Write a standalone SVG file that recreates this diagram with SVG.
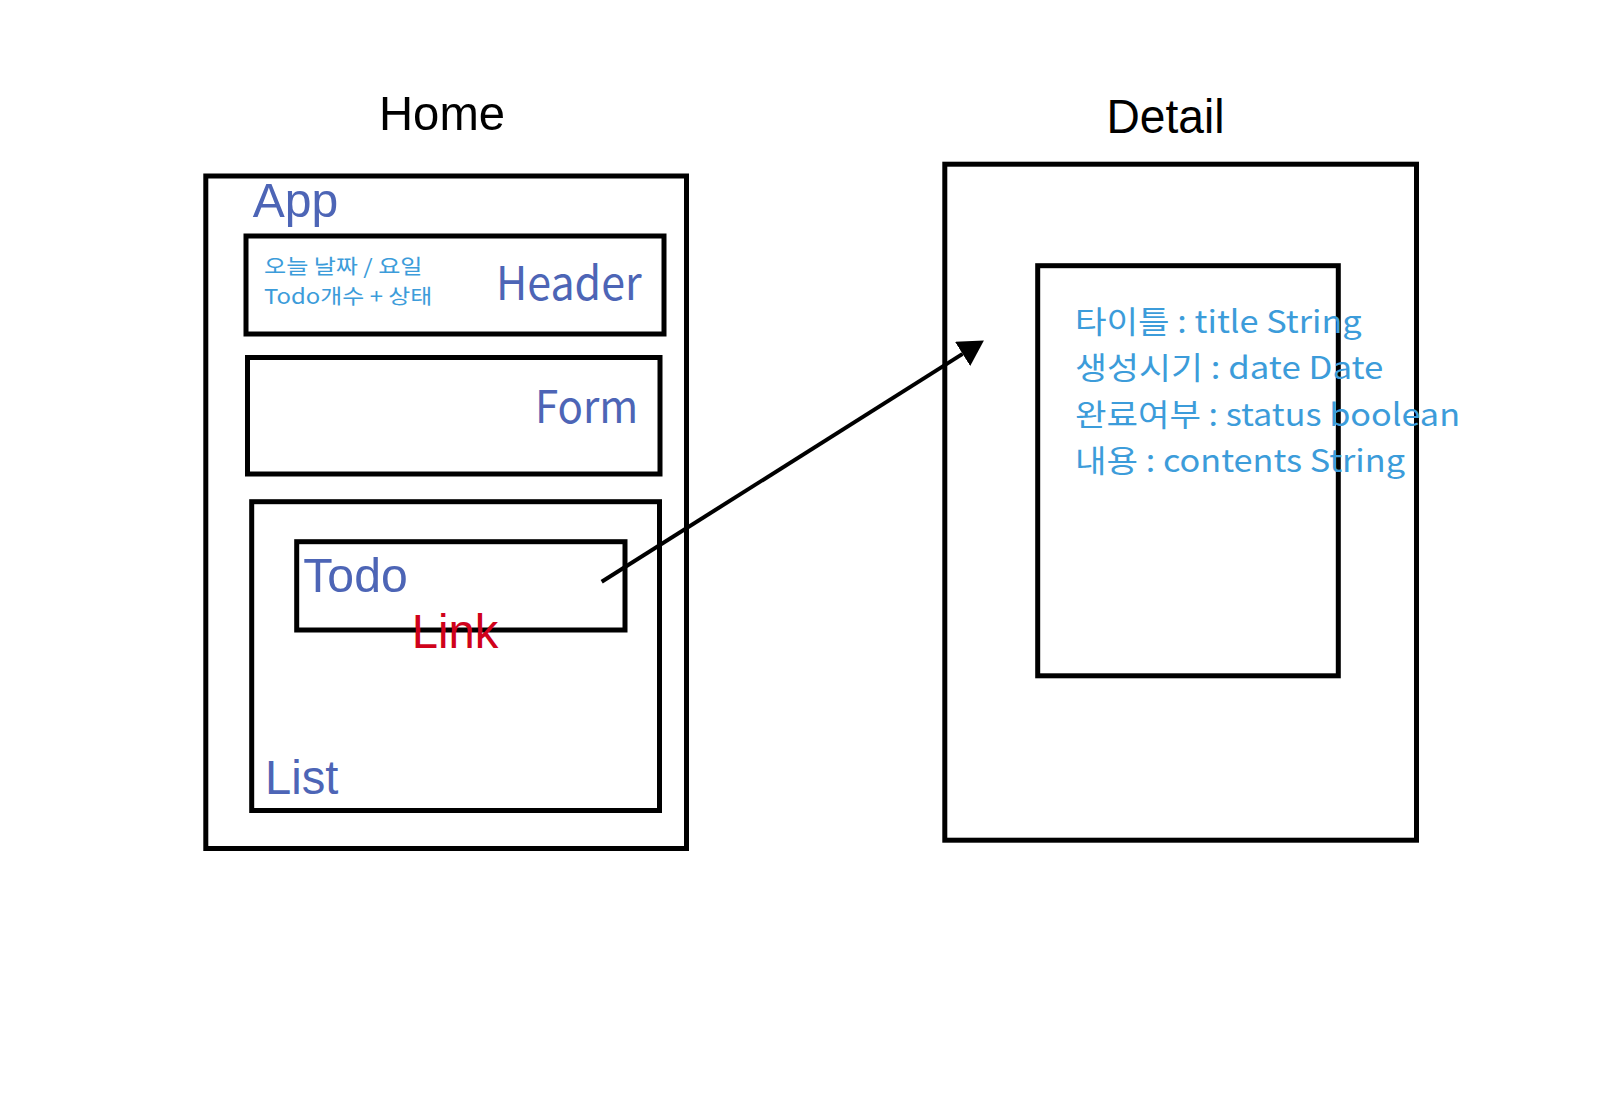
<svg xmlns="http://www.w3.org/2000/svg" width="1600" height="1104" viewBox="0 0 1600 1104">
<style>
.box{fill:none;stroke:#000;stroke-width:5}
.title{font-family:"Liberation Sans",Arial,sans-serif;font-size:49px;fill:#000}
.lbl{font-family:"Liberation Sans",Arial,sans-serif;font-size:48px;fill:#4d65b6}
.lbk{font-family:"Noto Sans CJK KR","Noto Sans",sans-serif;fill:#4d65b6}
.ko{font-family:"Noto Sans CJK KR",sans-serif;fill:#3c9cda}
.link{font-family:"Liberation Sans",Arial,sans-serif;font-size:48px;fill:#d0021b}
.conn{fill:none;stroke:#000;stroke-width:4}
</style>
<defs>
<marker id="arrow" markerUnits="userSpaceOnUse" markerWidth="26" markerHeight="30" refX="0" refY="14.25" orient="auto" viewBox="0 0 26 30">
<path d="M0,0 L25.2,14.25 L0,28.5 z" fill="#000"/>
</marker>
</defs>
<rect width="1600" height="1104" fill="#fff"/>
<text class="title" x="379" y="129.5" textLength="126" lengthAdjust="spacingAndGlyphs">Home</text>
<text class="title" x="1106.5" y="132.7" textLength="118" lengthAdjust="spacingAndGlyphs">Detail</text>
<g id="app">
<rect class="box" x="205.8" y="176" width="480.7" height="672.5"/>
<text class="lbl" x="252.7" y="216.7" textLength="85.5" lengthAdjust="spacingAndGlyphs">App</text>
</g>
<g id="header">
<rect class="box" x="246" y="236" width="418" height="98"/>
<text class="ko" x="264" y="274" font-size="20.7" textLength="158.5" lengthAdjust="spacingAndGlyphs">오늘 날짜 / 요일</text>
<text class="ko" x="264" y="304" font-size="20.7" textLength="168.3" lengthAdjust="spacingAndGlyphs">Todo개수 + 상태</text>
<text class="lbk" x="496" y="300" font-size="46" textLength="145.7" lengthAdjust="spacingAndGlyphs">Header</text>
</g>
<g id="form">
<rect class="box" x="247.5" y="357.5" width="412.5" height="116.5"/>
<text class="lbk" x="535" y="422.7" font-size="45" textLength="103.3" lengthAdjust="spacingAndGlyphs">Form</text>
</g>
<g id="list">
<rect class="box" x="251.7" y="501.7" width="407.8" height="308.8"/>
<text class="lbl" x="265" y="794" textLength="73.3" lengthAdjust="spacingAndGlyphs">List</text>
</g>
<g id="todo">
<rect class="box" x="296.7" y="541.7" width="328.3" height="88.3"/>
<text class="lbl" x="303.3" y="591.7" font-size="49" textLength="104.4" lengthAdjust="spacingAndGlyphs">Todo</text>
<text class="link" x="411.7" y="648.3" textLength="86.6" lengthAdjust="spacingAndGlyphs">Link</text>
</g>
<g id="detail">
<rect class="box" x="944.8" y="164.2" width="471.7" height="676"/>
</g>
<g id="detail-content">
<rect class="box" x="1037.7" y="265.7" width="300.6" height="410.1"/>
<text class="ko" x="1075" y="333.3" font-size="31" textLength="286.7" lengthAdjust="spacingAndGlyphs">타이틀 : title String</text>
<text class="ko" x="1075" y="379.3" font-size="31" textLength="308.3" lengthAdjust="spacingAndGlyphs">생성시기 : date Date</text>
<text class="ko" x="1075" y="425.7" font-size="31" textLength="385" lengthAdjust="spacingAndGlyphs">완료여부 : status boolean</text>
<text class="ko" x="1075" y="471.5" font-size="31" textLength="330" lengthAdjust="spacingAndGlyphs">내용 : contents String</text>
</g>
<g id="connectors">
<line class="conn" x1="601.7" y1="581.7" x2="962.6" y2="353.9" marker-end="url(#arrow)"/>
</g>
</svg>
